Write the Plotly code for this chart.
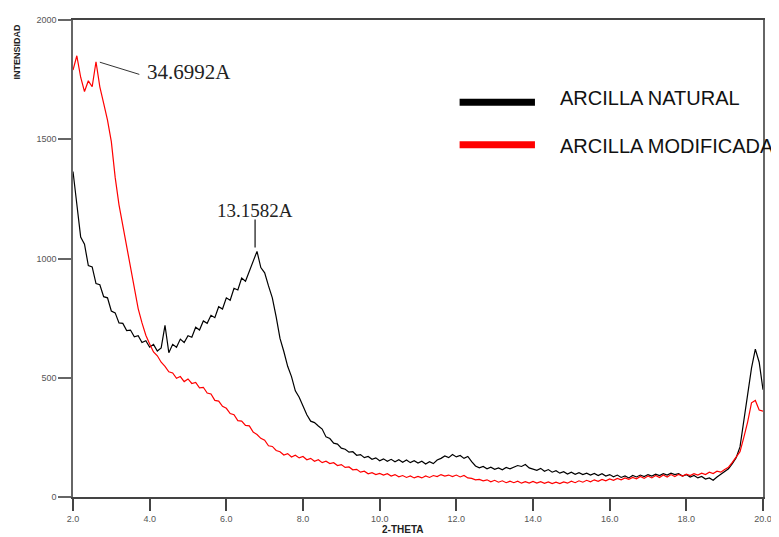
import plotly.graph_objects as go

# 2-theta sampling grid (degrees), 2.0 .. 20.0 step 0.1
two_theta = [round(2.0 + 0.1 * i, 1) for i in range(181)]

# ARCILLA NATURAL intensities
natural = [
    1365, 1215, 1090, 1060, 970, 965, 895, 890, 840, 835,
    780, 772, 730, 728, 698, 700, 672, 676, 648, 655,
    628, 640, 612, 625, 720, 605, 640, 628, 662, 648,
    676, 670, 712, 700, 738, 728, 762, 752, 798, 788,
    835, 825, 875, 868, 918, 905, 945, 990, 1030, 962,
    940, 885, 835, 755, 665, 610, 548, 505, 445, 418,
    382, 345, 318, 312, 298, 285, 252, 245, 226, 222,
    205, 200, 188, 190, 175, 178, 165, 170, 158, 164,
    152, 160, 150, 158, 148, 156, 146, 155, 144, 152,
    142, 150, 138, 148, 140, 155, 162, 172, 165, 178,
    168, 174, 162, 170, 148, 130, 122, 128, 118, 125,
    116, 122, 114, 124, 118, 126, 132, 128, 136, 122,
    118, 112, 120, 108, 115, 104, 110, 100, 106, 96,
    104, 95, 102, 94, 100, 92, 99, 90, 98, 88,
    94, 85, 92, 82, 88, 80, 90, 84, 92, 86,
    94, 88, 96, 90, 98, 92, 100, 94, 98, 88,
    94, 84, 90, 80, 86, 75, 80, 70, 84, 95,
    108, 118, 140, 165, 210, 310, 430, 540, 620, 565,
    450,
]

# ARCILLA MODIFICADA intensities
modificada = [
    1790, 1850, 1760, 1700, 1745, 1720, 1825, 1720, 1650, 1580,
    1490, 1340, 1225, 1135, 1050, 955, 875, 790, 730, 678,
    642, 608, 592, 565, 548, 525, 520, 498, 505, 484,
    495, 476, 480, 458, 460, 436, 432, 405, 402, 380,
    372, 350, 345, 320, 318, 300, 298, 272, 262, 246,
    238, 215, 212, 195, 190, 176, 182, 168, 175, 164,
    170, 156, 162, 150, 156, 144, 150, 140, 144, 132,
    136, 124, 126, 114, 116, 104, 108, 97, 102, 94,
    99, 92, 98, 88, 94, 85, 90, 82, 88, 80,
    86, 80, 88, 82, 90, 86, 94, 88, 92, 86,
    92, 84, 90, 80, 78, 72, 74, 68, 72, 64,
    70, 62, 68, 60, 66, 60, 66, 58, 64, 58,
    65, 58, 64, 57, 63, 56, 62, 56, 63, 58,
    66, 60, 68, 62, 70, 64, 72, 66, 74, 68,
    76, 70, 78, 72, 80, 74, 82, 76, 86, 78,
    88, 80, 90, 82, 92, 84, 94, 86, 95, 88,
    96, 90, 98, 92, 100, 94, 104, 98, 108, 104,
    115, 125, 145, 170, 190, 250, 315, 395, 405, 365,
    360,
]

x_ticks = [2, 4, 6, 8, 10, 12, 14, 16, 18, 20]
x_tick_labels = ["2.0", "4.0", "6.0", "8.0", "10.0", "12.0", "14.0", "16.0", "18.0", "20.0"]
y_ticks = [0, 500, 1000, 1500, 2000]
y_tick_labels = ["0", "500", "1000", "1500", "2000"]

series_names = ["ARCILLA NATURAL", "ARCILLA MODIFICADA"]
series_colors = ["#000000", "#ff0000"]

peak_labels = ["34.6992A", "13.1582A"]

fig = go.Figure()
fig.add_trace(go.Scatter(x=two_theta, y=natural, mode="lines",
                         line=dict(color=series_colors[0], width=1.2),
                         name=series_names[0], showlegend=False))
fig.add_trace(go.Scatter(x=two_theta, y=modificada, mode="lines",
                         line=dict(color=series_colors[1], width=1.2),
                         name=series_names[1], showlegend=False))

# page body adds an 8px offset, so the figure is sized to fill the rest
fig.update_layout(
    width=771, height=529,
    margin=dict(l=65, r=10, t=7, b=40),
    paper_bgcolor="white", plot_bgcolor="white",
    xaxis=dict(range=[2, 20], tickvals=x_ticks, ticktext=x_tick_labels,
               ticks="outside", ticklen=12, tickwidth=1.5, tickcolor="#444",
               showline=True, linecolor="#444", linewidth=2, mirror=True,
               showgrid=False, zeroline=False,
               tickfont=dict(family="Arial", size=9, color="#555")),
    yaxis=dict(range=[0, 2000], tickvals=y_ticks, ticktext=y_tick_labels,
               ticks="outside", ticklen=13, tickwidth=1.5, tickcolor="#666",
               showline=True, linecolor="#666", linewidth=1.5, mirror=True,
               showgrid=False, zeroline=False,
               tickfont=dict(family="Arial", size=9, color="#555")),
    font=dict(family="Arial"),
)

shapes = [
    # legend swatches
    dict(type="line", xref="paper", yref="paper", x0=0.5603, x1=0.6695,
         y0=0.8278, y1=0.8278, line=dict(color=series_colors[0], width=7)),
    dict(type="line", xref="paper", yref="paper", x0=0.5603, x1=0.6695,
         y0=0.7386, y1=0.7386, line=dict(color=series_colors[1], width=7)),
    # peak leader lines
    dict(type="line", xref="x", yref="y", x0=2.70, y0=1823, x1=3.73, y1=1772,
         line=dict(color="#333", width=1)),
    dict(type="line", xref="x", yref="y", x0=6.75, y0=1046, x1=6.75, y1=1163,
         line=dict(color="#222", width=1.3)),
]
fig.update_layout(shapes=shapes)

annotations = [
    dict(text=series_names[0], xref="paper", yref="paper", x=0.7026, y=0.836,
         xanchor="left", yanchor="middle", showarrow=False,
         font=dict(family="Arial", size=20, color="#111")),
    dict(text=series_names[1], xref="paper", yref="paper", x=0.7026, y=0.7365,
         xanchor="left", yanchor="middle", showarrow=False,
         font=dict(family="Arial", size=20, color="#111")),
    dict(text=peak_labels[0], xref="x", yref="y", x=3.888, y=1780,
         xanchor="left", yanchor="middle", showarrow=False,
         font=dict(family="Liberation Serif", size=21, color="#222")),
    dict(text=peak_labels[1], xref="x", yref="y", x=6.745, y=1203,
         xanchor="center", yanchor="middle", showarrow=False,
         font=dict(family="Liberation Serif", size=19, color="#222")),
    dict(text="<b>INTENSIDAD</b>", xref="paper", yref="paper", x=-0.0805, y=0.9347,
         xanchor="center", yanchor="middle", textangle=-90, showarrow=False,
         font=dict(family="Arial", size=9, color="#222")),
    dict(text="<b>2-THETA</b>", xref="paper", yref="paper", x=0.477, y=-0.0685,
         xanchor="center", yanchor="middle", showarrow=False,
         font=dict(family="Arial", size=10, color="#222")),
]
fig.update_layout(annotations=annotations)

fig.write_html("out.html")
